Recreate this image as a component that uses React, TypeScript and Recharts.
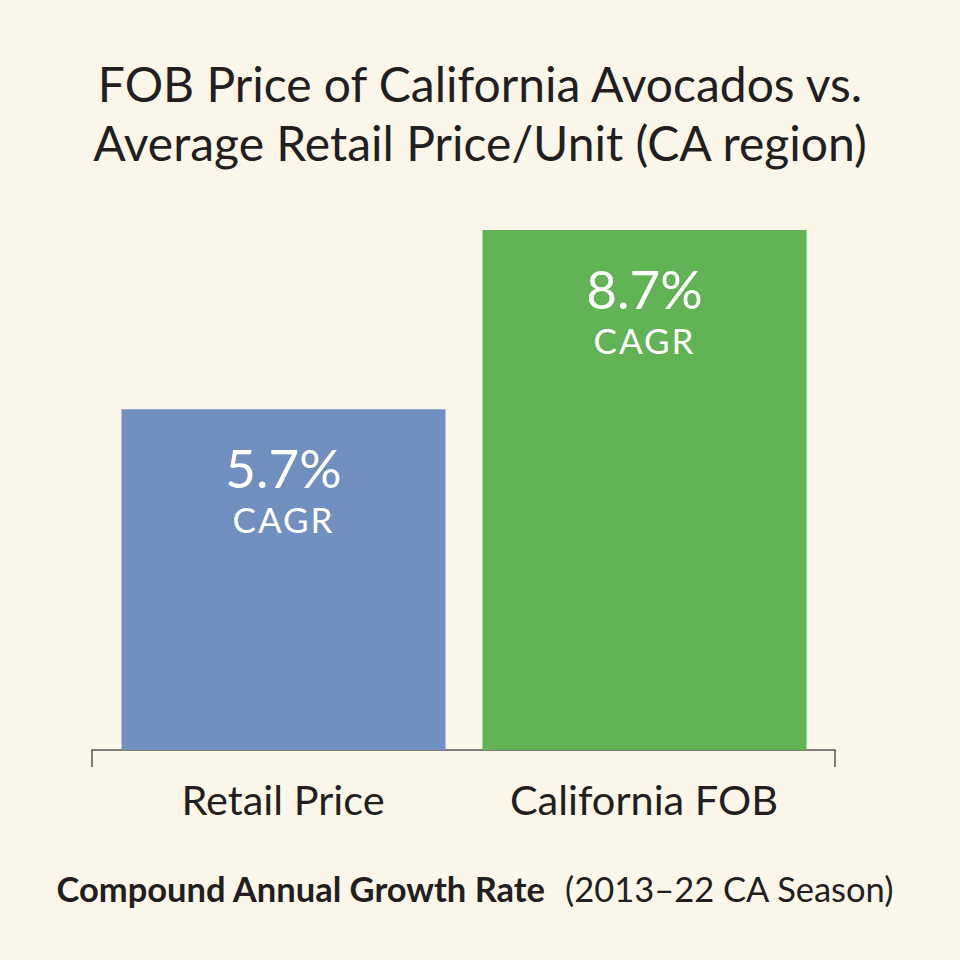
import { BarChart, Bar, XAxis, YAxis, Cell, LabelList, Customized } from 'recharts';

const categories = ['Retail Price', 'California FOB'];
const cagrValues = [5.7, 8.7];
const barColors = ['#7190bf', '#61b356'];

const W = 960;
const H = 960;
const AXIS_H = 30;
const MARGIN = { top: 230, right: 125, bottom: 180, left: 92 };
const FONT = 'Lato, "Open Sans", sans-serif';
const INK = '#231f20';

const data = categories.map((name, i) => ({ name, value: cagrValues[i] }));

const BarLabel = (props: any) => {
  const { x, y, width, value } = props;
  const cx = x + width / 2;
  return (
    <g>
      <text x={cx} y={y + 79} textAnchor="middle" fill="#fff" fontFamily={FONT} fontSize={53}>
        {`${value}%`}
      </text>
      <text
        x={cx}
        y={y + 124}
        textAnchor="middle"
        fill="#fff"
        fontFamily={FONT}
        fontSize={35}
        letterSpacing={2}
      >
        CAGR
      </text>
    </g>
  );
};

// little drop marks at both ends of the baseline
const AxisEnds = () => {
  const x0 = MARGIN.left;
  const x1 = W - MARGIN.right;
  const y = H - MARGIN.bottom - AXIS_H;
  return (
    <path
      d={`M${x0},${y + 17}L${x0},${y}L${x1},${y}L${x1},${y + 17}`}
      stroke="#555"
      strokeWidth={1.5}
      fill="none"
    />
  );
};

export default function App() {
  return (
    <div style={{ position: 'absolute', left: 0, top: 0, width: W, height: H, background: '#fbf6ea' }}>
      <svg width={W} height={H} style={{ position: 'absolute', left: 0, top: 0 }}>
        <text x={W / 2} y={102} textAnchor="middle" fill={INK} fontFamily={FONT} fontSize={48}>
          FOB Price of California Avocados vs.
        </text>
        <text x={W / 2} y={161} textAnchor="middle" fill={INK} fontFamily={FONT} fontSize={48}>
          Average Retail Price/Unit (CA region)
        </text>
        <text x={475} y={902} textAnchor="middle" fill={INK} fontFamily={FONT} fontSize={34.5}>
          <tspan fontWeight="bold">Compound Annual Growth Rate</tspan>
          <tspan dx={20}>(2013–22 CA Season)</tspan>
        </text>
      </svg>
      <div style={{ position: 'absolute', left: 0, top: 0 }}>
        <BarChart width={W} height={H} data={data} margin={MARGIN}>
          <XAxis
            dataKey="name"
            height={AXIS_H}
            padding={{ left: 10.5, right: 10.5 }}
            axisLine={false}
            tickLine={false}
            tick={{ fill: INK, fontSize: 41.5, fontFamily: FONT }}
            dy={28}
          />
          <YAxis hide domain={[0, 8.7]} />
          <Bar dataKey="value" barSize={324} isAnimationActive={false}>
            {data.map((d, i) => (
              <Cell key={d.name} fill={barColors[i]} />
            ))}
            <LabelList dataKey="value" content={BarLabel} />
          </Bar>
          <Customized component={AxisEnds} />
        </BarChart>
      </div>
    </div>
  );
}
